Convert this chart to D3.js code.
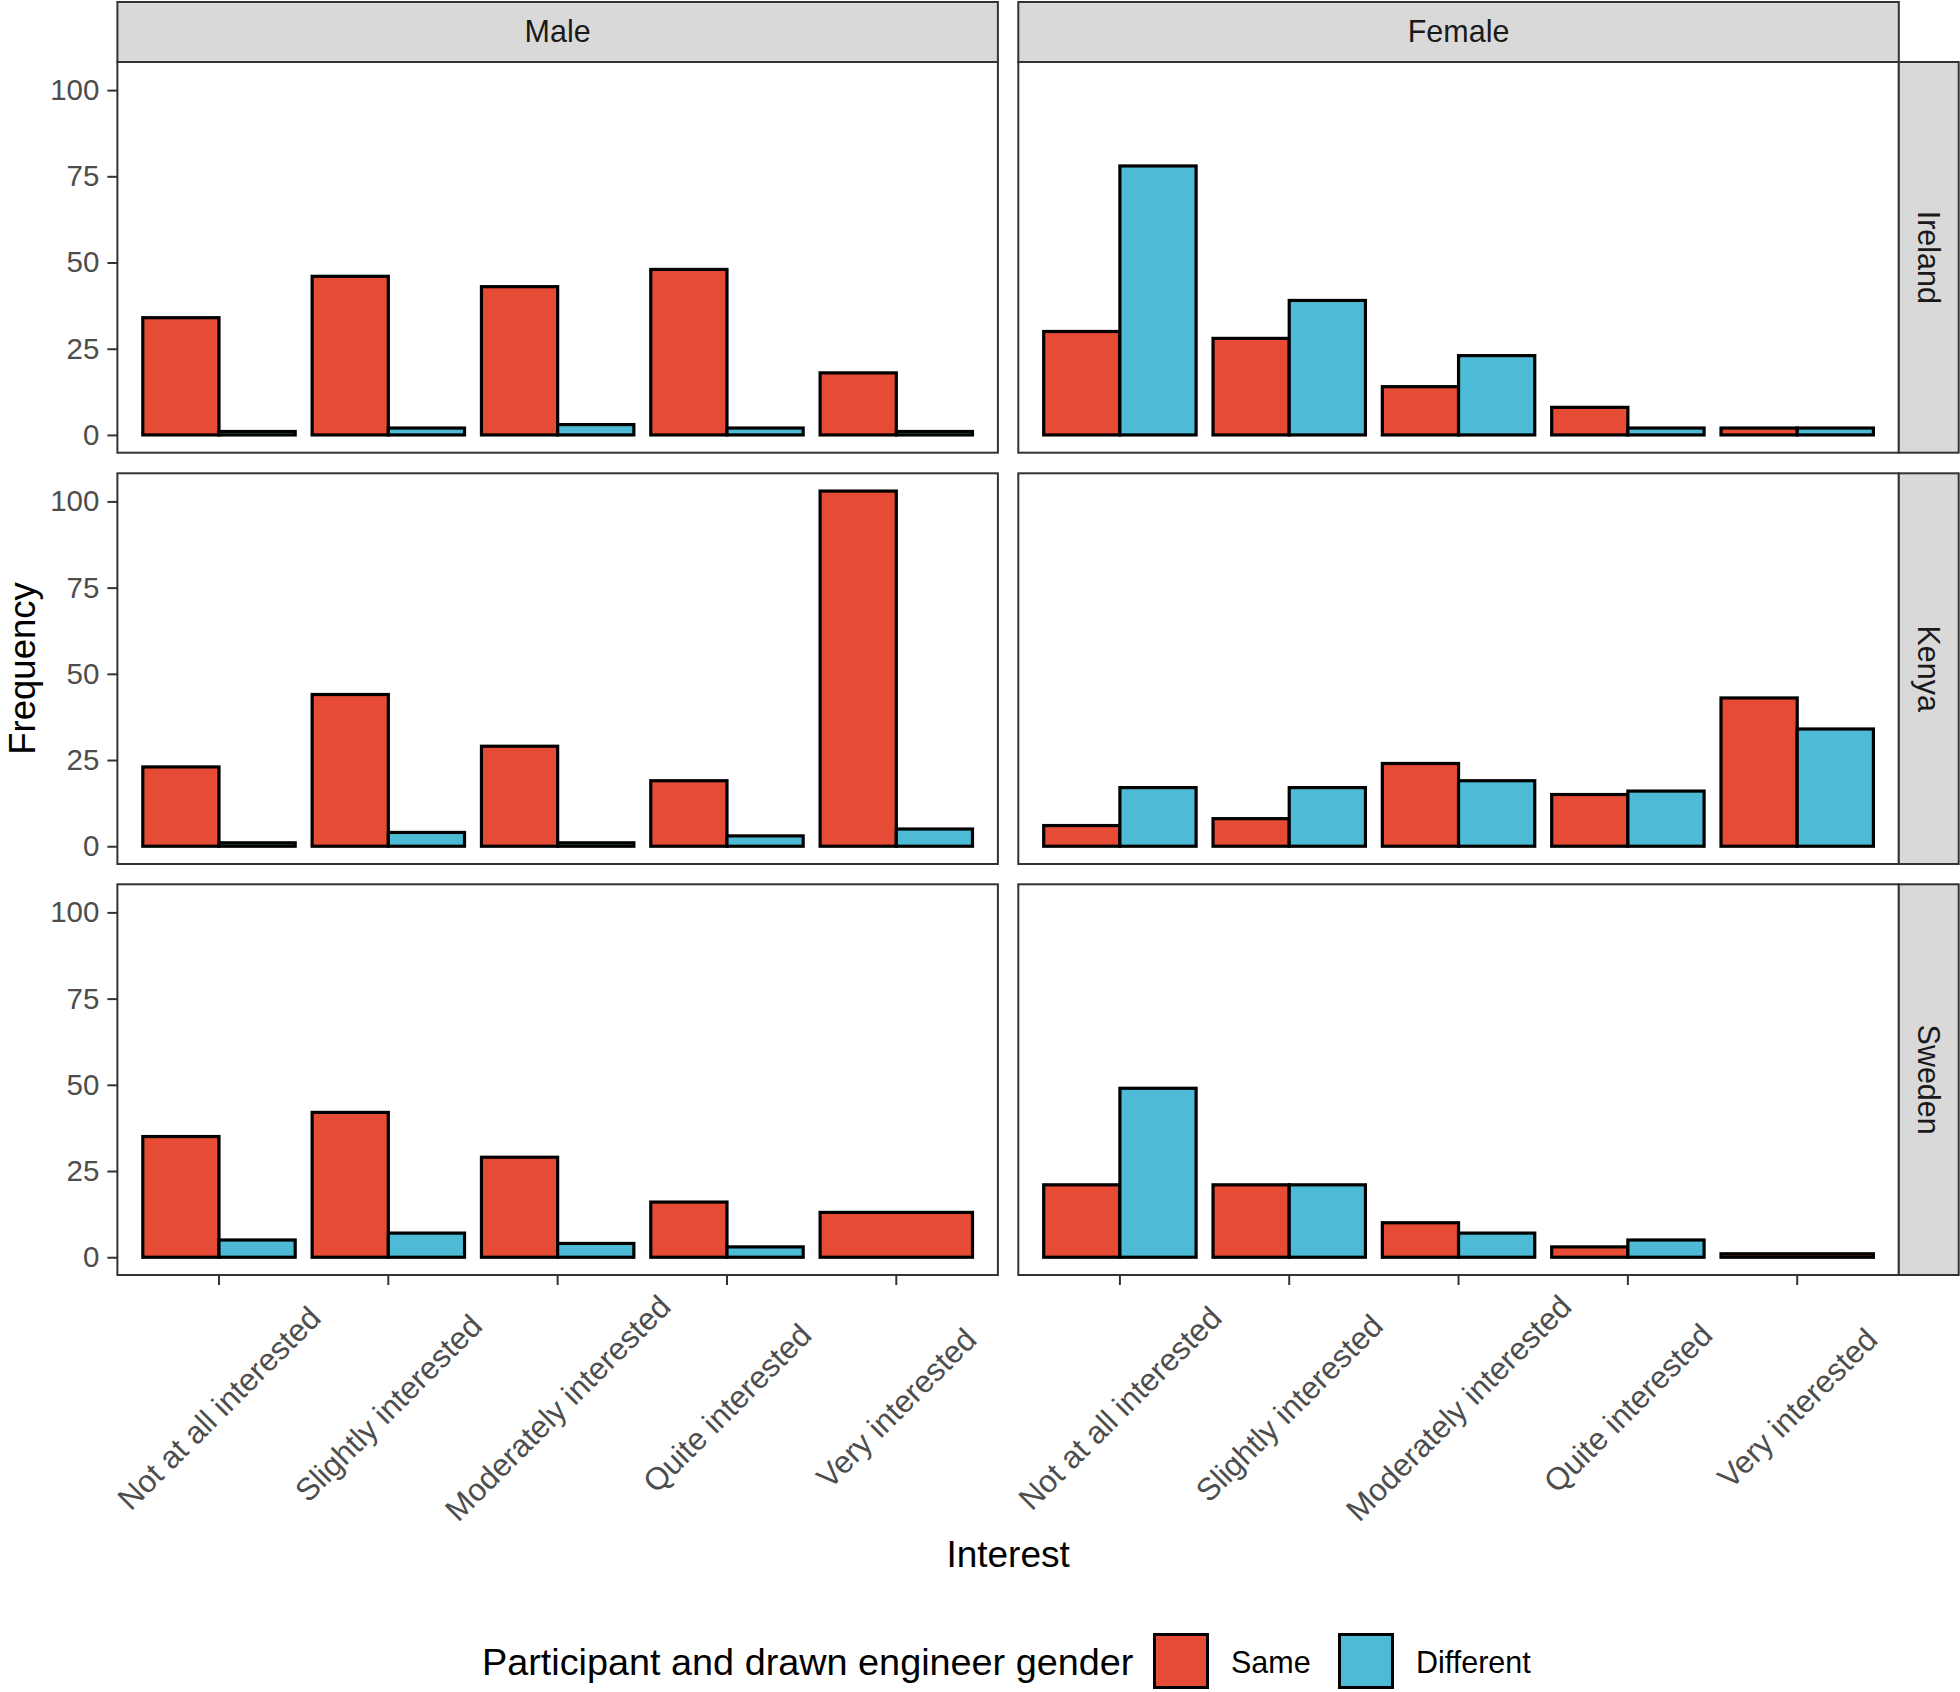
<!DOCTYPE html>
<html>
<head>
<meta charset="utf-8">
<script src="https://cdnjs.cloudflare.com/ajax/libs/d3/7.8.5/d3.min.js"></script>
<style>
  html, body { margin: 0; padding: 0; background: #fff; }
  svg { display: block; font-family: "Liberation Sans", Arial, Helvetica, sans-serif; }
</style>
</head>
<body>
<svg id="chart" width="1960" height="1692"></svg>
<script>
// ---------------- DATA ----------------
const categories = ["Not at all interested", "Slightly interested", "Moderately interested", "Quite interested", "Very interested"];
const genders = ["Male", "Female"];
const countries = ["Ireland", "Kenya", "Sweden"];
const groups = ["Same", "Different"];
const yTicks = [0, 25, 50, 75, 100];

// values per country (rows), per category; null = group absent
const maleSame = {
  Ireland: [34, 46, 43, 48, 18],
  Kenya:   [23, 44, 29, 19, 103],
  Sweden:  [35, 42, 29, 16, 13]
};
const maleDifferent = {
  Ireland: [1, 2, 3, 2, 1],
  Kenya:   [1, 4, 1, 3, 5],
  Sweden:  [5, 7, 4, 3, null]
};
const femaleSame = {
  Ireland: [30, 28, 14, 8, 2],
  Kenya:   [6, 8, 24, 15, 43],
  Sweden:  [21, 21, 10, 3, 1]
};
const femaleDifferent = {
  Ireland: [78, 39, 23, 2, 2],
  Kenya:   [17, 17, 19, 16, 34],
  Sweden:  [49, 21, 7, 5, null]
};
const colors = { Same: "#E64B35", Different: "#4DBBD5" };

// ---------------- LAYOUT ----------------
const svg = d3.select("#chart");
const colLeft = [117.4, 1018.3];
const panelW = 880.5;
const rowTop = [62, 473.3, 884.3];
const panelH = 390.7;
const stripTop = 2;
const stripRightX = 1898.8, stripRightW = 59.9;
const borderCol = "#333333";

const dataFor = {
  Male: { Same: maleSame, Different: maleDifferent },
  Female: { Same: femaleSame, Different: femaleDifferent }
};

const x = d3.scaleBand().domain(categories).range([0, panelW]).paddingInner(0.1).paddingOuter(0.15).align(0.5);
const y = d3.scaleLinear().domain([-5.15, 108.15]).range([panelH, 0]);

genders.forEach((g, ci) => {
  // top strip
  const sg = svg.append("g").attr("transform", `translate(${colLeft[ci]},${stripTop})`);
  sg.append("rect").attr("width", panelW).attr("height", rowTop[0] - stripTop)
    .attr("fill", "#D9D9D9").attr("stroke", borderCol).attr("stroke-width", 2);
  sg.append("text").attr("x", panelW / 2).attr("y", 40).attr("text-anchor", "middle")
    .attr("font-size", 30.5).attr("fill", "#1A1A1A").text(g);

  countries.forEach((c, ri) => {
    const pg = svg.append("g").attr("transform", `translate(${colLeft[ci]},${rowTop[ri]})`);
    pg.append("rect").attr("width", panelW).attr("height", panelH).attr("fill", "#fff");

    // bars
    const rows = [];
    categories.forEach((cat, k) => {
      const present = groups.filter(gr => dataFor[g][gr][c][k] !== null);
      const inner = d3.scaleBand().domain(present).range([0, x.bandwidth()]);
      present.forEach(gr => {
        rows.push({ cat, gr, v: dataFor[g][gr][c][k], x0: x(cat) + inner(gr), w: inner.bandwidth() });
      });
    });
    pg.selectAll("rect.bar").data(rows).join("rect").attr("class", "bar")
      .attr("x", d => d.x0).attr("width", d => d.w)
      .attr("y", d => y(d.v)).attr("height", d => y(0) - y(d.v))
      .attr("fill", d => colors[d.gr]).attr("stroke", "#000").attr("stroke-width", 3.2);

    // border
    pg.append("rect").attr("width", panelW).attr("height", panelH)
      .attr("fill", "none").attr("stroke", borderCol).attr("stroke-width", 2);

    // y axis (left column only)
    if (ci === 0) {
      const ax = pg.append("g").call(d3.axisLeft(y).tickValues(yTicks).tickSize(10).tickPadding(8));
      ax.select(".domain").remove();
      ax.selectAll(".tick line").attr("stroke", borderCol).attr("stroke-width", 2);
      ax.selectAll(".tick text").attr("font-size", 29.5).attr("fill", "#4D4D4D")
        .attr("font-family", "'Liberation Sans', Arial, sans-serif");
    }

    // x axis (bottom row only)
    if (ri === countries.length - 1) {
      const ax = pg.append("g").attr("transform", `translate(0,${panelH})`)
        .call(d3.axisBottom(x).tickSize(10));
      ax.select(".domain").remove();
      ax.selectAll(".tick line").attr("stroke", borderCol).attr("stroke-width", 2);
      ax.selectAll(".tick text").attr("font-size", 31.5).attr("fill", "#4D4D4D")
        .attr("font-family", "'Liberation Sans', Arial, sans-serif")
        .attr("y", 0).attr("dy", "0.35em").attr("text-anchor", "middle")
        .attr("transform", "translate(0,133) rotate(-45)");
    }

    // right strips
    if (ci === 1) {
      const rg = svg.append("g").attr("transform", `translate(${stripRightX},${rowTop[ri]})`);
      rg.append("rect").attr("width", stripRightW).attr("height", panelH)
        .attr("fill", "#D9D9D9").attr("stroke", borderCol).attr("stroke-width", 2);
      rg.append("text").attr("transform", `translate(${stripRightW / 2},${panelH / 2}) rotate(90)`)
        .attr("text-anchor", "middle").attr("dy", "0.35em")
        .attr("font-size", 30.5).attr("fill", "#1A1A1A").text(c);
    }
  });
});

// axis titles
svg.append("text").attr("x", (colLeft[0] + colLeft[1] + panelW) / 2).attr("y", 1567)
  .attr("text-anchor", "middle").attr("font-size", 37).attr("fill", "#000").text("Interest");
svg.append("text").attr("transform", `translate(35,${(rowTop[0] + rowTop[2] + panelH) / 2}) rotate(-90)`)
  .attr("text-anchor", "middle").attr("font-size", 36.5).attr("fill", "#000").text("Frequency");

// legend
const lg = svg.append("g");
lg.append("text").attr("x", 482).attr("y", 1675).attr("font-size", 37.8).attr("fill", "#000")
  .text("Participant and drawn engineer gender");
const keyX = { Same: 1153, Different: 1338 };
groups.forEach(gr => {
  lg.append("rect").attr("x", keyX[gr] + 1.5).attr("y", 1634.5).attr("width", 53).attr("height", 53)
    .attr("fill", colors[gr]).attr("stroke", "#000").attr("stroke-width", 3);
  lg.append("text").attr("x", keyX[gr] + 78).attr("y", 1673).attr("font-size", 30.5).attr("fill", "#000").text(gr);
});
</script>
</body>
</html>
